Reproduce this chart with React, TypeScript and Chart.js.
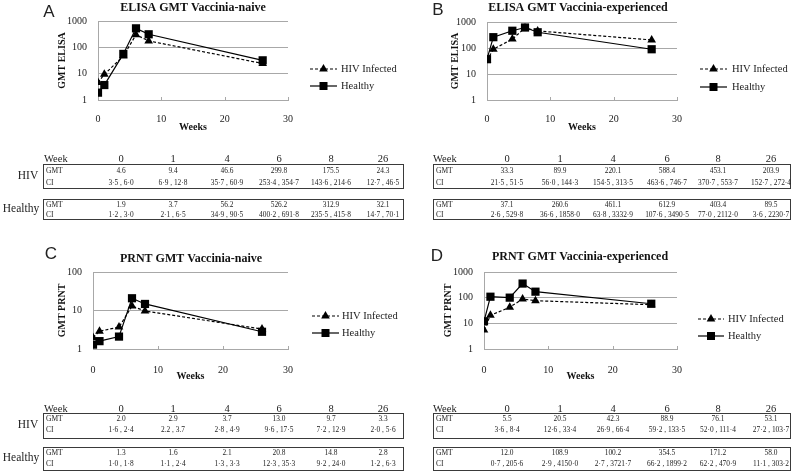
import React, { useEffect, useRef } from 'react';
import { Chart, registerables } from 'chart.js';

Chart.register(...registerables);

const SERIF = '"Liberation Serif", "Times New Roman", serif';
const SANS = '"Liberation Sans", Arial, sans-serif';

// ---- data ----
const weeks = [0, 1, 4, 6, 8, 26];
const yTickValues = [1, 10, 100, 1000];

const elisaNaiveHIV = [4.6, 9.4, 46.6, 299.8, 175.5, 24.3];
const elisaNaiveHIVCI = ['3·5 , 6·0', '6·9 , 12·8', '35·7 , 60·9', '253·4 , 354·7', '143·6 , 214·6', '12·7 , 46·5'];
const elisaNaiveHealthy = [1.9, 3.7, 56.2, 526.2, 312.9, 32.1];
const elisaNaiveHealthyCI = ['1·2 , 3·0', '2·1 , 6·5', '34·9 , 90·5', '400·2 , 691·8', '235·5 , 415·8', '14·7 , 70·1'];

const elisaExpHIV = [33.3, 89.9, 220.1, 588.4, 453.1, 203.9];
const elisaExpHIVCI = ['21·5 , 51·5', '56·0 , 144·3', '154·5 , 313·5', '463·6 , 746·7', '370·7 , 553·7', '152·7 , 272·4'];
const elisaExpHealthy = [37.1, 260.6, 461.1, 612.9, 403.4, 89.5];
const elisaExpHealthyCI = ['2·6 , 529·8', '36·6 , 1858·0', '63·8 , 3332·9', '107·6 , 3490·5', '77·0 , 2112·0', '3·6 , 2230·7'];

const prntNaiveHIV = [2.0, 2.9, 3.7, 13.0, 9.7, 3.3];
const prntNaiveHIVCI = ['1·6 , 2·4', '2.2 , 3.7', '2·8 , 4·9', '9·6 , 17·5', '7·2 , 12·9', '2·0 , 5·6'];
const prntNaiveHealthy = [1.3, 1.6, 2.1, 20.8, 14.8, 2.8];
const prntNaiveHealthyCI = ['1·0 , 1·8', '1·1 , 2·4', '1·3 , 3·3', '12·3 , 35·3', '9·2 , 24·0', '1·2 , 6·3'];

const prntExpHIV = [5.5, 20.5, 42.3, 88.9, 76.1, 53.1];
const prntExpHIVCI = ['3·6 , 8·4', '12·6 , 33·4', '26·9 , 66·4', '59·2 , 133·5', '52·0 , 111·4', '27·2 , 103·7'];
const prntExpHealthy = [12.0, 108.9, 100.2, 354.5, 171.2, 58.0];
const prntExpHealthyCI = ['0·7 , 205·6', '2·9 , 4150·0', '2·7 , 3721·7', '66·2 , 1899·2', '62·2 , 470·9', '11·1 , 303·2'];

const seriesNames = ['HIV Infected', 'Healthy'];

type PanelSpec = {
  cx: number; cy: number; cw: number; ch: number;
  areaL: number; areaR: number; areaT: number; areaB: number;
  yTitleX: number; xTitleY: number; xTickY: number;
  titleX: number; titleY: number; title: string; yTitle: string;
  letter: string; letterX: number; letterY: number;
  lx1: number; lx2: number; ltx: number; ly1: number; ly2: number;
  yMax: number; hiv: number[]; healthy: number[];
};

const panels: PanelSpec[] = [
  {
    cx: 0, cy: 0, cw: 400, ch: 140, areaL: 98, areaR: 288, areaT: 21, areaB: 100,
    yTitleX: 62, xTitleY: 127, xTickY: 111, titleX: 193, titleY: 8,
    title: 'ELISA GMT Vaccinia-naive', yTitle: 'GMT ELISA', letter: 'A', letterX: 49, letterY: 12,
    lx1: 310, lx2: 337, ltx: 341, ly1: 69, ly2: 86, yMax: 1000, hiv: elisaNaiveHIV, healthy: elisaNaiveHealthy,
  },
  {
    cx: 400, cy: 0, cw: 398, ch: 140, areaL: 487, areaR: 677, areaT: 22, areaB: 100,
    yTitleX: 455, xTitleY: 127, xTickY: 111, titleX: 578, titleY: 8,
    title: 'ELISA GMT Vaccinia-experienced', yTitle: 'GMT ELISA', letter: 'B', letterX: 438, letterY: 10,
    lx1: 700, lx2: 727, ltx: 732, ly1: 69, ly2: 87, yMax: 1000, hiv: elisaExpHIV, healthy: elisaExpHealthy,
  },
  {
    cx: 0, cy: 232, cw: 400, ch: 152, areaL: 93, areaR: 288, areaT: 272, areaB: 349,
    yTitleX: 62, xTitleY: 376, xTickY: 362, titleX: 191, titleY: 259,
    title: 'PRNT GMT Vaccinia-naive', yTitle: 'GMT PRNT', letter: 'C', letterX: 51, letterY: 254,
    lx1: 312, lx2: 339, ltx: 342, ly1: 316, ly2: 333, yMax: 100, hiv: prntNaiveHIV, healthy: prntNaiveHealthy,
  },
  {
    cx: 400, cy: 232, cw: 398, ch: 152, areaL: 484, areaR: 677, areaT: 272, areaB: 349,
    yTitleX: 448, xTitleY: 376, xTickY: 362, titleX: 580, titleY: 257,
    title: 'PRNT GMT Vaccinia-experienced', yTitle: 'GMT PRNT', letter: 'D', letterX: 437, letterY: 256,
    lx1: 698, lx2: 724, ltx: 728, ly1: 319, ly2: 336, yMax: 1000, hiv: prntExpHIV, healthy: prntExpHealthy,
  },
];

const GRID = '#a8a8a8';

function drawTriangle(ctx: CanvasRenderingContext2D, x: number, y: number, r: number) {
  ctx.beginPath();
  ctx.moveTo(x, y - r);
  ctx.lineTo(x + r * 0.866, y + r * 0.5);
  ctx.lineTo(x - r * 0.866, y + r * 0.5);
  ctx.closePath();
  ctx.fill();
}

function Panel({ s }: { s: PanelSpec }) {
  const ref = useRef<HTMLCanvasElement>(null);
  useEffect(() => {
    const padLeft = Math.round(s.yTitleX - 6 - s.cx);
    const yW = s.areaL - s.cx - padLeft;
    const padRight = s.cx + s.cw - s.areaR;
    const padTop = s.areaT - s.cy;
    const xH = Math.round(s.xTitleY + 6 - s.areaB);
    const padBottom = Math.max(0, s.cy + s.ch - s.areaB - xH);

    const decor = {
      id: 'decor',
      afterDraw(chart: any) {
        const ctx: CanvasRenderingContext2D = chart.ctx;
        const ox = s.cx, oy = s.cy;
        ctx.save();
        // x tick marks (pointing up)
        const xs = chart.scales.x;
        ctx.strokeStyle = GRID;
        ctx.lineWidth = 1;
        [10, 20, 30].forEach((v) => {
          const px = Math.round(xs.getPixelForValue(v)) + 0.5;
          ctx.beginPath();
          ctx.moveTo(px, chart.chartArea.bottom);
          ctx.lineTo(px, chart.chartArea.bottom - 3);
          ctx.stroke();
        });
        // title
        ctx.fillStyle = '#111';
        ctx.textAlign = 'center';
        ctx.textBaseline = 'middle';
        ctx.font = `bold 12px ${SERIF}`;
        ctx.fillText(s.title, s.titleX - ox, s.titleY - oy);
        // letter
        ctx.font = `17px ${SANS}`;
        ctx.fillStyle = '#222';
        ctx.fillText(s.letter, s.letterX - ox, s.letterY - oy);
        // legend
        ctx.strokeStyle = '#000';
        ctx.fillStyle = '#000';
        ctx.lineWidth = 1.2;
        const mid = (s.lx1 + s.lx2) / 2 - ox;
        ctx.setLineDash([3, 2]);
        ctx.beginPath();
        ctx.moveTo(s.lx1 - ox, s.ly1 - oy);
        ctx.lineTo(s.lx2 - ox, s.ly1 - oy);
        ctx.stroke();
        ctx.setLineDash([]);
        drawTriangle(ctx, mid, s.ly1 - oy, 5);
        ctx.beginPath();
        ctx.moveTo(s.lx1 - ox, s.ly2 - oy);
        ctx.lineTo(s.lx2 - ox, s.ly2 - oy);
        ctx.stroke();
        ctx.fillRect(mid - 4, s.ly2 - oy - 4, 8, 8);
        ctx.font = `10.5px ${SERIF}`;
        ctx.fillStyle = '#222';
        ctx.textAlign = 'left';
        ctx.fillText(seriesNames[0], s.ltx - ox, s.ly1 - oy);
        ctx.fillText(seriesNames[1], s.ltx - ox, s.ly2 - oy);
        ctx.restore();
      },
    };

    const chart = new Chart(ref.current as HTMLCanvasElement, {
      type: 'line',
      data: {
        datasets: [
          {
            label: seriesNames[0],
            data: weeks.map((w, i) => ({ x: w, y: s.hiv[i] })),
            borderColor: '#000',
            backgroundColor: '#000',
            borderWidth: 1.2,
            borderDash: [3, 2],
            pointStyle: 'triangle',
            pointRadius: 5,
            pointBorderWidth: 0,
            tension: 0,
          },
          {
            label: seriesNames[1],
            data: weeks.map((w, i) => ({ x: w, y: s.healthy[i] })),
            borderColor: '#000',
            backgroundColor: '#000',
            borderWidth: 1.2,
            pointStyle: 'rect',
            pointRadius: 5.8,
            pointBorderWidth: 0,
            tension: 0,
          },
        ],
      },
      options: {
        responsive: false,
        animation: false,
        layout: { padding: { left: padLeft, right: padRight, top: padTop, bottom: padBottom } },
        plugins: { legend: { display: false }, title: { display: false }, tooltip: { enabled: false } },
        scales: {
          x: {
            type: 'linear',
            min: 0,
            max: 30,
            ticks: { stepSize: 10, padding: s.xTickY - s.areaB - 6, font: { family: SERIF, size: 10 }, color: '#222' },
            grid: { display: false },
            border: { color: GRID, width: 1 },
            title: { display: true, text: 'Weeks', font: { family: SERIF, size: 10, weight: 'bold' }, color: '#111', padding: 0 },
            afterFit: (a: any) => { a.height = xH; },
          },
          y: {
            type: 'logarithmic',
            min: 1,
            max: s.yMax,
            afterBuildTicks: (a: any) => {
              a.ticks = yTickValues.filter((v) => v <= s.yMax).map((v) => ({ value: v }));
            },
            ticks: { callback: (v: any) => String(v), padding: 11, font: { family: SERIF, size: 10 }, color: '#222' },
            grid: { color: GRID, drawTicks: false, lineWidth: 1 },
            border: { color: GRID, width: 1 },
            title: { display: true, text: s.yTitle, font: { family: SERIF, size: 10, weight: 'bold' }, color: '#111', padding: 0 },
            afterFit: (a: any) => { a.width = yW; },
          },
        },
      } as any,
      plugins: [decor],
    });
    return () => chart.destroy();
  }, []);
  return (
    <canvas
      ref={ref}
      width={s.cw}
      height={s.ch}
      style={{ position: 'absolute', left: s.cx, top: s.cy, width: s.cw, height: s.ch }}
    />
  );
}

function Txt({ x, y, text, size, align = 'center', color = '#222' }: { x: number; y: number; text: string; size: number; align?: string; color?: string }) {
  return (
    <div
      style={{
        position: 'absolute', left: x, top: y,
        transform: align === 'center' ? 'translate(-50%,-50%)' : 'translate(0,-50%)',
        willChange: 'transform',
        fontSize: size, lineHeight: 1, whiteSpace: 'nowrap', color,
      }}
    >
      {text}
    </div>
  );
}

type TableSpec = {
  boxL: number; boxR: number; cols: number[]; weekX: number; headerY: number;
  hivTop: number; hivBot: number; hivG: number; hivC: number;
  hTop: number; hBot: number; hG: number; hC: number;
  hivGmt: number[]; hivCI: string[]; hGmt: number[]; hCI: string[];
};

const CELL = 7.4;
const LBL = 7.5;

function Table({ t }: { t: TableSpec }) {
  const box = (top: number, bot: number) => (
    <div style={{
      position: 'absolute', left: t.boxL, top, width: t.boxR - t.boxL, height: bot - top,
      border: '1.5px solid #3a3a3a', boxSizing: 'border-box',
    }} />
  );
  return (
    <>
      <Txt x={t.weekX} y={t.headerY} text="Week" size={10.5} align="left" />
      {weeks.map((w, i) => <Txt key={'h' + i} x={t.cols[i]} y={t.headerY} text={String(w)} size={10.5} />)}
      {box(t.hivTop, t.hivBot)}
      {box(t.hTop, t.hBot)}
      <Txt x={t.boxL + 3} y={t.hivG} text="GMT" size={LBL} align="left" />
      <Txt x={t.boxL + 3} y={t.hivC} text="CI" size={LBL} align="left" />
      <Txt x={t.boxL + 3} y={t.hG} text="GMT" size={LBL} align="left" />
      <Txt x={t.boxL + 3} y={t.hC} text="CI" size={LBL} align="left" />
      {t.hivGmt.map((v, i) => <Txt key={'a' + i} x={t.cols[i]} y={t.hivG} text={v.toFixed(1)} size={CELL} />)}
      {t.hivCI.map((v, i) => <Txt key={'b' + i} x={t.cols[i]} y={t.hivC} text={v} size={CELL} />)}
      {t.hGmt.map((v, i) => <Txt key={'c' + i} x={t.cols[i]} y={t.hG} text={v.toFixed(1)} size={CELL} />)}
      {t.hCI.map((v, i) => <Txt key={'d' + i} x={t.cols[i]} y={t.hC} text={v} size={CELL} />)}
    </>
  );
}

const leftCols = [121, 173, 227, 279, 331, 383];
const rightCols = [507, 560, 613, 667, 718, 771];
const topRows = { headerY: 159, hivTop: 164, hivBot: 189, hivG: 171, hivC: 183, hTop: 199, hBot: 220, hG: 204.5, hC: 215 };
const botRows = { headerY: 409, hivTop: 413, hivBot: 439, hivG: 419, hivC: 430, hTop: 447, hBot: 471, hG: 453, hC: 464 };

const tables: TableSpec[] = [
  { boxL: 43, boxR: 404, cols: leftCols, weekX: 44, ...topRows, hivGmt: elisaNaiveHIV, hivCI: elisaNaiveHIVCI, hGmt: elisaNaiveHealthy, hCI: elisaNaiveHealthyCI },
  { boxL: 433, boxR: 791, cols: rightCols, weekX: 433, ...topRows, hivGmt: elisaExpHIV, hivCI: elisaExpHIVCI, hGmt: elisaExpHealthy, hCI: elisaExpHealthyCI },
  { boxL: 43, boxR: 404, cols: leftCols, weekX: 44, ...botRows, hivGmt: prntNaiveHIV, hivCI: prntNaiveHIVCI, hGmt: prntNaiveHealthy, hCI: prntNaiveHealthyCI },
  { boxL: 433, boxR: 791, cols: rightCols, weekX: 433, ...botRows, hivGmt: prntExpHIV, hivCI: prntExpHIVCI, hGmt: prntExpHealthy, hCI: prntExpHealthyCI },
];

export default function App() {
  return (
    <div style={{
      position: 'absolute', left: 0, top: 0, width: 798, height: 472, overflow: 'hidden',
      background: '#fff', fontFamily: SERIF,
    }}>
      {panels.map((p, i) => <Panel key={i} s={p} />)}
      {tables.map((t, i) => <Table key={i} t={t} />)}
      <Txt x={28} y={176} text="HIV" size={11.5} />
      <Txt x={21} y={209} text="Healthy" size={11.5} />
      <Txt x={28} y={425} text="HIV" size={11.5} />
      <Txt x={21} y={458} text="Healthy" size={11.5} />
    </div>
  );
}
